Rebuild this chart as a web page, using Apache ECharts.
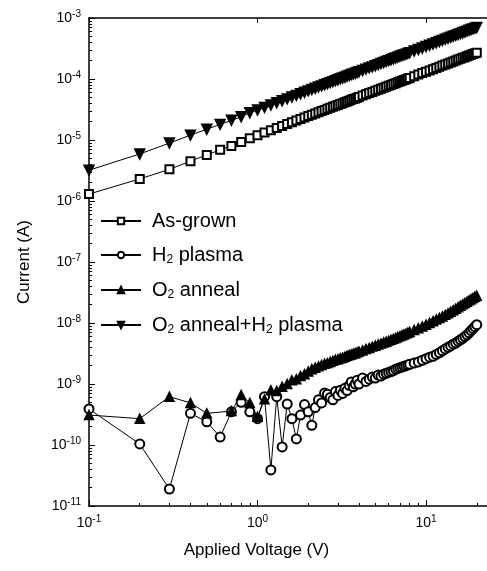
<!DOCTYPE html>
<html>
<head>
<meta charset="utf-8">
<script src="https://cdn.jsdelivr.net/npm/echarts@6/dist/echarts.min.js"></script>
<style>
  html, body { margin: 0; padding: 0; background: #fff; }
  #chart { width: 487px; height: 571px; }
</style>
</head>
<body>
<div id="chart"></div>
<script>
// applied voltage (V), shared by all four curves
var voltage = [0.1, 0.2, 0.3, 0.4, 0.5, 0.6, 0.7, 0.8, 0.9, 1.0,
  1.1, 1.2, 1.3, 1.4, 1.5, 1.6, 1.7, 1.8, 1.9, 2.0,
  2.1, 2.2, 2.3, 2.4, 2.5, 2.6, 2.7, 2.8, 2.9, 3.0,
  3.1, 3.2, 3.3, 3.4, 3.5, 3.6, 3.7, 3.8, 3.9, 4.0,
  4.2, 4.4, 4.6, 4.8, 5.0, 5.2, 5.4, 5.6, 5.8, 6.0,
  6.2, 6.4, 6.6, 6.8, 7.0, 7.2, 7.4, 7.6, 7.8, 8.0,
  8.5, 9.0, 9.5, 10, 10.5, 11, 11.5, 12, 12.5, 13,
  13.5, 14, 14.5, 15, 15.5, 16, 16.5, 17, 17.5, 18,
  18.5, 19, 19.5, 20];

// current (A)
var asGrown = [1.3e-6, 2.3e-6, 3.3e-6, 4.5e-6, 5.7e-6, 6.9e-6, 8.0e-6, 9.3e-6, 1.07e-5, 1.2e-5,
  1.33e-5, 1.45e-5, 1.58e-5, 1.70e-5, 1.83e-5, 1.96e-5, 2.08e-5, 2.21e-5, 2.34e-5, 2.47e-5,
  2.60e-5, 2.72e-5, 2.85e-5, 2.98e-5, 3.11e-5, 3.24e-5, 3.37e-5, 3.50e-5, 3.63e-5, 3.76e-5,
  3.89e-5, 4.02e-5, 4.15e-5, 4.28e-5, 4.41e-5, 4.55e-5, 4.68e-5, 4.81e-5, 4.94e-5, 5.07e-5,
  5.34e-5, 5.60e-5, 5.87e-5, 6.13e-5, 6.40e-5, 6.66e-5, 6.93e-5, 7.20e-5, 7.47e-5, 7.73e-5,
  8.00e-5, 8.27e-5, 8.54e-5, 8.81e-5, 9.08e-5, 9.35e-5, 9.62e-5, 9.89e-5, 1.02e-4, 1.04e-4,
  1.11e-4, 1.18e-4, 1.25e-4, 1.32e-4, 1.38e-4, 1.45e-4, 1.52e-4, 1.59e-4, 1.66e-4, 1.73e-4,
  1.80e-4, 1.87e-4, 1.94e-4, 2.01e-4, 2.08e-4, 2.15e-4, 2.22e-4, 2.28e-4, 2.35e-4, 2.43e-4,
  2.50e-4, 2.57e-4, 2.64e-4, 2.70e-4];

var h2Plasma = [3.9e-10, 1.04e-10, 1.9e-11, 3.3e-10, 2.4e-10, 1.35e-10, 3.5e-10, 5.0e-10, 3.5e-10, 2.7e-10,
  6.2e-10, 3.9e-11, 6.2e-10, 9.3e-11, 4.7e-10, 2.7e-10, 1.26e-10, 3.1e-10, 4.6e-10, 3.5e-10,
  2.1e-10, 4.1e-10, 5.5e-10, 4.9e-10, 7.1e-10, 6.8e-10, 6.0e-10, 5.5e-10, 7.5e-10, 6.5e-10,
  7.9e-10, 7.0e-10, 8.5e-10, 7.8e-10, 9.5e-10, 1.08e-9, 9.0e-10, 1.0e-9, 1.15e-9, 1.0e-9,
  1.25e-9, 1.1e-9, 1.2e-9, 1.3e-9, 1.25e-9, 1.4e-9, 1.35e-9, 1.45e-9, 1.5e-9, 1.55e-9,
  1.6e-9, 1.65e-9, 1.75e-9, 1.8e-9, 1.85e-9, 1.9e-9, 1.95e-9, 2.0e-9, 2.05e-9, 2.1e-9,
  2.2e-9, 2.3e-9, 2.45e-9, 2.6e-9, 2.75e-9, 2.85e-9, 3.05e-9, 3.25e-9, 3.5e-9, 3.75e-9,
  4.0e-9, 4.2e-9, 4.5e-9, 4.7e-9, 5.0e-9, 5.3e-9, 5.6e-9, 6.0e-9, 6.4e-9, 6.9e-9,
  7.5e-9, 8.1e-9, 8.7e-9, 9.4e-9];

// no visible marker at 0.6 V -> null
var o2Anneal = [3.1e-10, 2.7e-10, 6.2e-10, 4.9e-10, 3.3e-10, null, 3.6e-10, 6.6e-10, 4.9e-10, 2.9e-10,
  5.6e-10, 7.9e-10, 7.7e-10, 9.0e-10, 1.0e-9, 1.15e-9, 1.2e-9, 1.35e-9, 1.45e-9, 1.6e-9,
  1.75e-9, 1.85e-9, 1.95e-9, 2.05e-9, 2.15e-9, 2.2e-9, 2.3e-9, 2.4e-9, 2.5e-9, 2.55e-9,
  2.65e-9, 2.7e-9, 2.8e-9, 2.9e-9, 3.0e-9, 3.05e-9, 3.15e-9, 3.2e-9, 3.3e-9, 3.4e-9,
  3.55e-9, 3.75e-9, 3.9e-9, 4.1e-9, 4.25e-9, 4.45e-9, 4.6e-9, 4.8e-9, 4.95e-9, 5.15e-9,
  5.3e-9, 5.5e-9, 5.7e-9, 5.9e-9, 6.1e-9, 6.3e-9, 6.5e-9, 6.7e-9, 6.95e-9, 7.15e-9,
  7.7e-9, 8.2e-9, 8.8e-9, 9.4e-9, 1.0e-8, 1.07e-8, 1.14e-8, 1.21e-8, 1.28e-8, 1.36e-8,
  1.44e-8, 1.53e-8, 1.62e-8, 1.72e-8, 1.82e-8, 1.92e-8, 2.02e-8, 2.13e-8, 2.24e-8, 2.35e-8,
  2.46e-8, 2.57e-8, 2.69e-8, 2.8e-8];

var o2AnnealH2 = [3.2e-6, 5.9e-6, 8.9e-6, 1.2e-5, 1.5e-5, 1.8e-5, 2.1e-5, 2.4e-5, 2.8e-5, 3.1e-5,
  3.42e-5, 3.75e-5, 4.07e-5, 4.40e-5, 4.72e-5, 5.05e-5, 5.38e-5, 5.71e-5, 6.04e-5, 6.37e-5,
  6.71e-5, 7.04e-5, 7.37e-5, 7.71e-5, 8.04e-5, 8.37e-5, 8.71e-5, 9.04e-5, 9.39e-5, 9.72e-5,
  1.01e-4, 1.04e-4, 1.07e-4, 1.11e-4, 1.14e-4, 1.18e-4, 1.21e-4, 1.24e-4, 1.28e-4, 1.31e-4,
  1.38e-4, 1.45e-4, 1.52e-4, 1.58e-4, 1.65e-4, 1.72e-4, 1.79e-4, 1.86e-4, 1.93e-4, 2.00e-4,
  2.07e-4, 2.14e-4, 2.21e-4, 2.28e-4, 2.35e-4, 2.42e-4, 2.48e-4, 2.55e-4, 2.63e-4, 2.70e-4,
  2.87e-4, 3.05e-4, 3.22e-4, 3.40e-4, 3.58e-4, 3.75e-4, 3.93e-4, 4.11e-4, 4.29e-4, 4.47e-4,
  4.65e-4, 4.82e-4, 5.00e-4, 5.18e-4, 5.36e-4, 5.54e-4, 5.72e-4, 5.90e-4, 6.08e-4, 6.27e-4,
  6.45e-4, 6.63e-4, 6.81e-4, 6.99e-4];

var seriesNames = ['As-grown', 'H2 plasma', 'O2 anneal', 'O2 anneal+H2 plasma'];

(function () {
  var myChart = echarts.init(document.getElementById('chart'));
  var font = 'Liberation Sans, Arial, sans-serif';
  var xMin = 0.1, xMax = 23, yMin = 1e-11, yMax = 1e-3;

  function pairs(arr) {
    return voltage.map(function (v, i) { return [v, arr[i]]; });
  }
  // exponents of the 2..9 x 10^n minor ticks, for a plain value axis laid over the log one
  function minorExponents(lo, hi) {
    var out = [];
    for (var e = Math.floor(Math.log10(lo)); e <= Math.ceil(Math.log10(hi)); e++) {
      for (var m = 2; m <= 9; m++) {
        var v = m * Math.pow(10, e);
        if (v > lo && v < hi) out.push(Math.log10(v));
      }
    }
    return out;
  }
  // 10^n tick labels
  function powLabel(value) {
    var e = Math.round(Math.log10(value));
    if (Math.abs(Math.log10(value) - e) > 0.01) return '';
    return '10{sup|' + e + '}';
  }
  var labelRich = {
    sup: { fontFamily: font, fontSize: 10, color: '#000', padding: [0, 0, 8, 0] }
  };

  function lineSeries(name, arr, symbol, size) {
    return {
      name: name,
      type: 'line',
      data: pairs(arr),
      symbol: symbol,
      symbolSize: size,
      connectNulls: true,
      lineStyle: { color: '#000', width: 1 },
      itemStyle: { color: '#000', borderColor: '#000', borderWidth: 1.5 },
      emphasis: { disabled: true },
      animation: false
    };
  }

  var xBase = { type: 'log', logBase: 10, min: xMin, max: xMax, interval: 1, splitLine: { show: false } };
  var yBase = { type: 'log', logBase: 10, min: yMin, max: yMax, interval: 1, splitLine: { show: false } };

  var option = {
    backgroundColor: '#fff',
    grid: { left: 89, top: 18, right: 0, bottom: 65 },
    legend: {
      data: seriesNames,
      orient: 'vertical',
      left: 95,
      top: 206,
      itemWidth: 40,
      itemHeight: 8,
      itemGap: 14,
      textStyle: {
        fontFamily: font, fontSize: 20, color: '#000', padding: [0, 0, 0, 6],
        rich: { sub: { fontFamily: font, fontSize: 12, color: '#000', padding: [10, 0, 0, 0] } }
      },
      formatter: function (name) { return name.replace(/2/g, '{sub|2}'); }
    },
    xAxis: [
      Object.assign({}, xBase, {
        name: 'Applied Voltage (V)',
        nameLocation: 'middle',
        nameGap: 36,
        nameTextStyle: { fontFamily: font, fontSize: 17, color: '#000', padding: [0, 63, 0, 0] },
        axisLine: { onZero: false, lineStyle: { color: '#000', width: 1.5 } },
        axisTick: { inside: true, length: 6, lineStyle: { color: '#000' } },
        axisLabel: {
          formatter: powLabel, showMaxLabel: false,
          fontFamily: font, fontSize: 14, color: '#000', margin: 8, rich: labelRich
        }
      }),
      Object.assign({}, xBase, {
        position: 'top',
        axisLine: { onZero: false, lineStyle: { color: '#000', width: 1.5 } },
        axisTick: { inside: true, length: 5, lineStyle: { color: '#000' } },
        axisLabel: { show: false }
      }),
      // minor ticks along the bottom
      {
        type: 'value',
        position: 'bottom',
        min: Math.log10(xMin),
        max: Math.log10(xMax),
        axisLine: { show: false, onZero: false },
        axisTick: { show: true, inside: true, length: 3, customValues: minorExponents(xMin, xMax), lineStyle: { color: '#000' } },
        axisLabel: { show: false },
        splitLine: { show: false }
      }
    ],
    yAxis: [
      Object.assign({}, yBase, {
        name: 'Current (A)',
        nameLocation: 'middle',
        nameGap: 56,
        nameTextStyle: { fontFamily: font, fontSize: 17, color: '#000' },
        axisLine: { onZero: false, lineStyle: { color: '#000', width: 1.5 } },
        axisTick: { inside: true, length: 6, lineStyle: { color: '#000' } },
        axisLabel: {
          formatter: powLabel,
          fontFamily: font, fontSize: 14, color: '#000', margin: 8, rich: labelRich
        }
      }),
      // minor ticks along the left
      {
        type: 'value',
        position: 'left',
        min: Math.log10(yMin),
        max: Math.log10(yMax),
        axisLine: { show: false, onZero: false },
        axisTick: { show: true, inside: true, length: 3, customValues: minorExponents(yMin, yMax), lineStyle: { color: '#000' } },
        axisLabel: { show: false },
        splitLine: { show: false }
      }
    ],
    series: [
      lineSeries(seriesNames[0], asGrown, 'emptyRect', 8),
      lineSeries(seriesNames[1], h2Plasma, 'emptyCircle', 9),
      lineSeries(seriesNames[2], o2Anneal, 'triangle', 9),
      lineSeries(seriesNames[3], o2AnnealH2, 'path://M0,0 L2,0 L1,1.8 Z', 10)
    ]
  };

  myChart.setOption(option);
  window.addEventListener('resize', function () {
    myChart.resize();
  });
})();
</script>
</body>
</html>
